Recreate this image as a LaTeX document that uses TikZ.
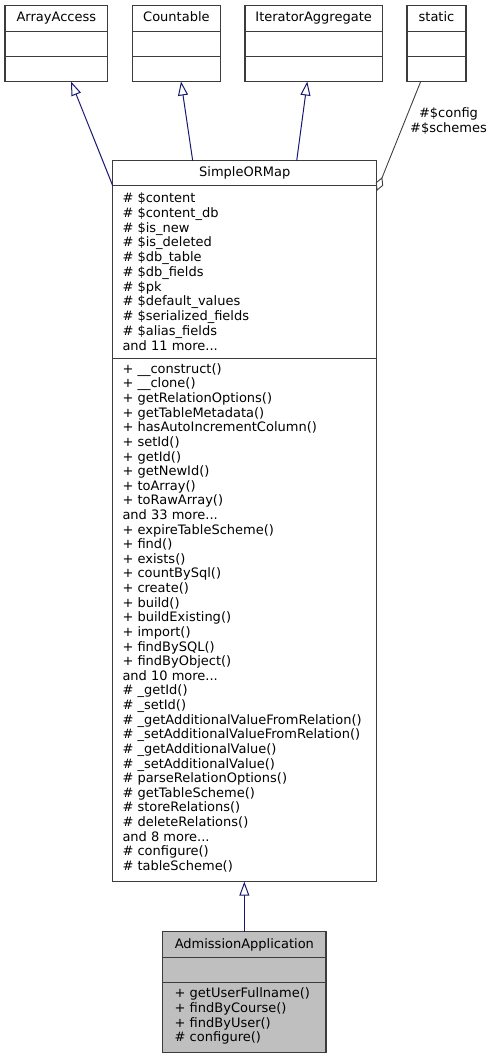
\documentclass[tikz,border=0pt]{standalone}
\usepackage{fontspec}
\setmainfont{DejaVu Sans}
\usetikzlibrary{arrows.meta}
\definecolor{edgeblue}{RGB}{25,25,112}
\definecolor{boxline}{RGB}{60,60,60}
\definecolor{aggline}{RGB}{64,64,64}
\definecolor{hilite}{RGB}{191,191,191}
\newcommand{\tfont}{\fontsize{13}{14.7}\selectfont}
\newcommand{\afont}{\fontsize{13}{14.78}\selectfont}
\newcommand{\mfont}{\fontsize{13}{14.62}\selectfont}
\begin{document}
\begin{tikzpicture}[x=1pt,y=-1pt,
  cpt/.style={draw=boxline, line width=1.1pt, inner sep=0pt, outer sep=0pt,
    anchor=north west, text height=9.5pt, text depth=2.5pt, font=\tfont},
  members/.style={inner sep=0pt, outer sep=0pt, anchor=base west},
  inherit/.style={draw=edgeblue, line width=1pt, -{Triangle[open, length=14pt, width=10pt]}},
  aggreg/.style={draw=aggline, line width=0.9pt, -{Diamond[open, length=15pt, width=8pt]}},
  lbl/.style={inner sep=0pt, anchor=base, font=\tfont}]
\useasboundingbox (0,0) rectangle (491,1059);

% ArrayAccess
\node[cpt, minimum width=102.7pt, minimum height=26pt] (aa-t) at (5,5.5) {ArrayAccess};
\node[cpt, minimum width=102.7pt, minimum height=25pt] (aa-a) at (aa-t.south west) {};
\node[cpt, minimum width=102.7pt, minimum height=25pt] (aa-m) at (aa-a.south west) {};
% Countable
\node[cpt, minimum width=87.8pt, minimum height=26pt] (ct-t) at (132.5,5.5) {Countable};
\node[cpt, minimum width=87.8pt, minimum height=25pt] (ct-a) at (ct-t.south west) {};
\node[cpt, minimum width=87.8pt, minimum height=25pt] (ct-m) at (ct-a.south west) {};
% IteratorAggregate
\node[cpt, minimum width=137.3pt, minimum height=26pt] (ia-t) at (245,5.5) {IteratorAggregate};
\node[cpt, minimum width=137.3pt, minimum height=25pt] (ia-a) at (ia-t.south west) {};
\node[cpt, minimum width=137.3pt, minimum height=25pt] (ia-m) at (ia-a.south west) {};
% static
\node[cpt, minimum width=59pt, minimum height=26pt] (st-t) at (407,5.5) {static};
\node[cpt, minimum width=59pt, minimum height=25pt] (st-a) at (st-t.south west) {};
\node[cpt, minimum width=59pt, minimum height=25pt] (st-m) at (st-a.south west) {};

% SimpleORMap
\node[cpt, minimum width=264pt, minimum height=25pt] (som-t) at (112.7,160.7) {SimpleORMap};
\node[cpt, minimum width=264pt, minimum height=172.6pt] (som-a) at (som-t.south west) {};
\node[cpt, minimum width=264pt, minimum height=523.4pt] (som-m) at (som-a.south west) {};
\node[members, font=\afont] (som-at) at (122.5,202.5) {\begin{tabular}[t]{@{}l@{}}
\# \$content\\
\# \$content\_db\\
\# \$is\_new\\
\# \$is\_deleted\\
\# \$db\_table\\
\# \$db\_fields\\
\# \$pk\\
\# \$default\_values\\
\# \$serialized\_fields\\
\# \$alias\_fields\\
and 11 more...
\end{tabular}};
\node[members, font=\mfont] (som-mt) at (122.5,373.3) {\begin{tabular}[t]{@{}l@{}}
+ \_\_construct()\\
+ \_\_clone()\\
+ getRelationOptions()\\
+ getTableMetadata()\\
+ hasAutoIncrementColumn()\\
+ setId()\\
+ getId()\\
+ getNewId()\\
+ toArray()\\
+ toRawArray()\\
and 33 more...\\
+ expireTableScheme()\\
+ find()\\
+ exists()\\
+ countBySql()\\
+ create()\\
+ build()\\
+ buildExisting()\\
+ import()\\
+ findBySQL()\\
+ findByObject()\\
and 10 more...\\
\# \_getId()\\
\# \_setId()\\
\# \_getAdditionalValueFromRelation()\\
\# \_setAdditionalValueFromRelation()\\
\# \_getAdditionalValue()\\
\# \_setAdditionalValue()\\
\# parseRelationOptions()\\
\# getTableScheme()\\
\# storeRelations()\\
\# deleteRelations()\\
and 8 more...\\
\# configure()\\
\# tableScheme()
\end{tabular}};

% AdmissionApplication
\node[cpt, fill=hilite, minimum width=163.3pt, minimum height=26pt] (ad-t) at (162.7,931.7) {AdmissionApplication};
\node[cpt, fill=hilite, minimum width=163.3pt, minimum height=25pt] (ad-a) at (ad-t.south west) {};
\node[cpt, fill=hilite, minimum width=163.3pt, minimum height=70pt] (ad-m) at (ad-a.south west) {};
\node[members, font=\mfont] (ad-mt) at (174.7,997.8) {\begin{tabular}[t]{@{}l@{}}
+ getUserFullname()\\
+ findByCourse()\\
+ findByUser()\\
\# configure()
\end{tabular}};

% connector end points
\coordinate (aa-tip) at (71,81.5);
\coordinate (ct-tip) at (181,81.5);
\coordinate (ia-tip) at (307.3,81.5);
\coordinate (st-out) at (420.7,81.5);
\coordinate (som-ct) at (192.7,160.7);
\coordinate (som-ia) at (296.7,160.7);
\coordinate (som-st) at (376.7,191);

\draw[inherit] (som-t.south west) -- (aa-tip);
\draw[inherit] (som-ct) -- (ct-tip);
\draw[inherit] (som-ia) -- (ia-tip);
\draw[inherit] (ad-t.north) -- (ad-t.north |- som-m.south);
\draw[aggreg] (st-out) -- (som-st);

\node[lbl] (aglbl) at (448.5,117.5) {\begin{tabular}[t]{@{}c@{}}\#\$config\\\#\$schemes\end{tabular}};
\end{tikzpicture}
\end{document}
